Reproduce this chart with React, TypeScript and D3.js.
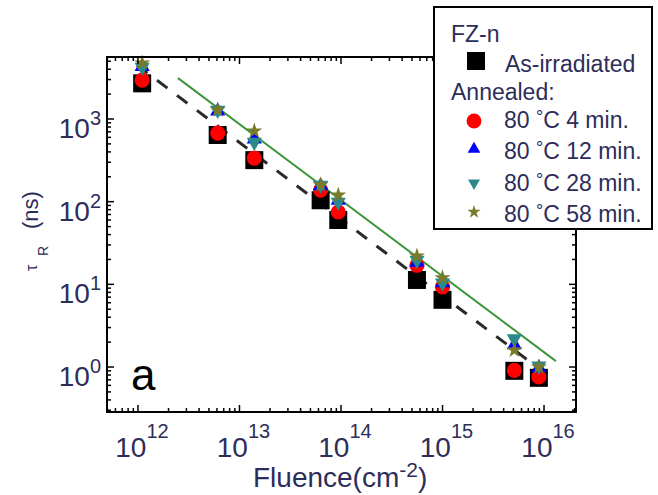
import React from 'react';
import * as d3 from 'd3';

// ---- data ----
const fluence = [1.1e12, 6.1e12, 1.4e13, 6.3e13, 9.4e13, 5.6e14, 1.0e15, 5.1e15, 8.9e15];
const asIrradiated = [2700, 640, 318, 104, 60, 11.3, 6.5, 0.9, 0.74];
const annealed4 = [2950, 675, 337, 138, 75, 17, 9.3, 0.91, 0.76];
const annealed12 = [4300, 1250, 570, 155, 104, 18.5, 10.4, 1.85, 0.98];
const annealed28 = [4250, 1280, 525, 158, 99, 19.6, 10.4, 2.2, 1.03];
const annealed58 = [4750, 1290, 715, 160, 120, 22, 12, 1.6, 1.0];
const fitAsIrradiatedF = [9.8e11, 8.7e15];
const fitAsIrradiatedT = [4470, 0.98];
const fitAnnealedF = [2.48e12, 1.31e16];
const fitAnnealedT = [3120, 1.18];
const xTickExp = [12, 13, 14, 15, 16];
const yTickExp = [0, 1, 2, 3];
const legendTitle = 'FZ-n';
const legendAsIrr = 'As-irradiated';
const legendAnnealed = 'Annealed:';
const annealMinutes = ['4', '12', '28', '58'];

const W = 658, H = 495;
const L = 107, R = 576, T = 57, B = 412;
const TXT = '#2d2d5a';
const FONT = '"Liberation Sans", Arial, Helvetica, sans-serif';

const x = d3.scaleLog().domain([Math.pow(10, 11.695), Math.pow(10, 16.315)]).range([L, R]);
const y = d3.scaleLog().domain([Math.pow(10, -0.544), Math.pow(10, 3.75)]).range([B, T]);

const sym = (type: any, size: number) => d3.symbol().type(type).size(size)() as string;

const series = [
  { vals: asIrradiated, type: d3.symbolSquare, size: 324, color: '#000000', rot: 0, lsize: 324 },
  { vals: annealed4, type: d3.symbolCircle, size: 180, color: '#ff0000', rot: 0, lsize: 175 },
  { vals: annealed12, type: d3.symbolTriangle, size: 100, color: '#0000ff', rot: 0, lsize: 70 },
  { vals: annealed28, type: d3.symbolTriangle, size: 100, color: '#2a8a8a', rot: 180, lsize: 62 },
  { vals: annealed58, type: d3.symbolStar, size: 80, color: '#7a7a28', rot: 0, lsize: 55 },
];

export default function App() {
  const xTicks = x.ticks().filter(v => v >= x.domain()[0] && v <= x.domain()[1]);
  const yTicks = y.ticks().filter(v => v >= y.domain()[0] && v <= y.domain()[1]);
  const isMajor = (v: number) => Math.abs(Math.log10(v) - Math.round(Math.log10(v))) < 1e-6;
  const line = d3.line<[number, number]>().x(d => x(d[0])).y(d => y(d[1]));
  const dashPts: [number, number][] = fitAsIrradiatedF.map((f, i) => [f, fitAsIrradiatedT[i]]);
  const greenPts: [number, number][] = fitAnnealedF.map((f, i) => [f, fitAnnealedT[i]]);

  const legendRowsY = [128, 159, 191, 222];
  const legendMarkerY = [121, 149, 183, 212];

  return (
    <svg width={W} height={H} style={{ position: 'absolute', left: 0, top: 0, background: '#fff' }} fontFamily={FONT}>
      <rect x={0} y={0} width={W} height={H} fill="#fff" />
      {/* fit lines */}
      <path d={line(dashPts) as string} stroke="#2a2a2a" strokeWidth={3} strokeDasharray="13,12" fill="none" />
      <path d={line(greenPts) as string} stroke="#3c963c" strokeWidth={2} fill="none" />
      {/* markers */}
      {series.map((s, si) => (
        <g key={si}>
          {s.vals.map((v, i) => (
            <path key={i} d={sym(s.type, s.size)} fill={s.color}
              transform={`translate(${x(fluence[i])},${y(v)}) rotate(${s.rot})`} />
          ))}
        </g>
      ))}
      {/* frame */}
      <rect x={L} y={T} width={R - L} height={B - T} fill="none" stroke="#000" strokeWidth={2} />
      {/* x ticks */}
      {xTicks.map((v, i) => {
        const len = isMajor(v) ? 7 : 4;
        const px = x(v);
        return (
          <g key={i}>
            <line x1={px} x2={px} y1={B} y2={B - len} stroke="#000" strokeWidth={1.5} />
            <line x1={px} x2={px} y1={T} y2={T + len} stroke="#000" strokeWidth={1.5} />
          </g>
        );
      })}
      {yTicks.map((v, i) => {
        const len = isMajor(v) ? 7 : 4;
        const py = y(v);
        return (
          <g key={i}>
            <line x1={L} x2={L + len} y1={py} y2={py} stroke="#000" strokeWidth={1.5} />
            <line x1={R} x2={R - len} y1={py} y2={py} stroke="#000" strokeWidth={1.5} />
          </g>
        );
      })}
      {/* x tick labels */}
      {xTickExp.map(e => (
        <text key={e} x={x(Math.pow(10, e)) + 4} y={457} textAnchor="middle" fontSize={28} fill={TXT}>
          10<tspan dy={-19} fontSize={20}>{e}</tspan>
        </text>
      ))}
      {/* y tick labels */}
      {yTickExp.map(e => (
        <text key={e} x={101} y={y(Math.pow(10, e)) + 19} textAnchor="end" fontSize={28} fill={TXT}>
          10<tspan dy={-13} fontSize={20}>{e}</tspan>
        </text>
      ))}
      {/* axis titles */}
      <text x={253} y={487} fontSize={28} fill={TXT}>
        Fluence(cm<tspan dy={-10} fontSize={21}>-2</tspan><tspan dy={10}>)</tspan>
      </text>
      <text transform="translate(37,271) rotate(-90)" fontSize={16} fill={TXT}>τ</text>
      <text transform="translate(48,256) rotate(-90)" fontSize={14} fill={TXT}>R</text>
      <text transform="translate(38,229) rotate(-90)" fontSize={22} fill={TXT}>(ns)</text>
      {/* panel label */}
      <text x={131} y={390} fontSize={44} fill="#000">a</text>
      {/* legend */}
      <rect x={434} y={7} width={218} height={222} fill="#fff" stroke="#000" strokeWidth={2} />
      <text x={451} y={42} fontSize={23} fill={TXT}>{legendTitle}</text>
      <path d={sym(series[0].type, series[0].lsize)} fill={series[0].color} transform="translate(476,61)" />
      <text x={505} y={72} fontSize={23} fill={TXT}>{legendAsIrr}</text>
      <text x={451} y={100} fontSize={23} fill={TXT}>{legendAnnealed}</text>
      {annealMinutes.map((m, i) => {
        const s = series[i + 1];
        return (
          <g key={m}>
            <path d={sym(s.type, s.lsize)} fill={s.color}
              transform={`translate(474,${legendMarkerY[i]}) rotate(${s.rot})`} />
            <text x={504} y={legendRowsY[i]} fontSize={23} fill={TXT}>
              80 <tspan dy={-5} fontSize={18}>°</tspan><tspan dy={5}>C {m} min.</tspan>
            </text>
          </g>
        );
      })}
    </svg>
  );
}
